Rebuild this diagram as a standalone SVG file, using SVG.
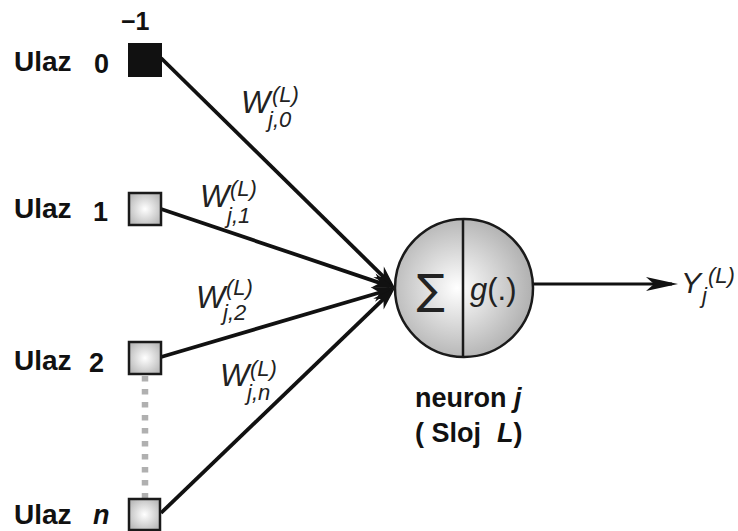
<svg xmlns="http://www.w3.org/2000/svg" width="738" height="531" viewBox="0 0 738 531">
<style>
.lbl{font-family:"Liberation Sans",Arial,sans-serif;font-weight:bold;font-size:28px;fill:#111}
.num{font-family:"Liberation Sans",Arial,sans-serif;font-weight:bold;font-size:27px;fill:#111}
.it{font-family:"Liberation Sans",Arial,sans-serif;font-style:italic;fill:#222}
.W{font-size:31px}
.s{font-size:22px}
.rm{font-family:"Liberation Sans",Arial,sans-serif;fill:#222}
.conn{stroke:#111;stroke-width:3.8;fill:none}
.box{stroke:#1a1a1a;stroke-width:2.5;fill:url(#sq)}
</style>
<defs>
<radialGradient id="sq" cx="0.5" cy="0.5" r="0.6">
<stop offset="0" stop-color="#ffffff"/>
<stop offset="1" stop-color="#b8b8b8"/>
</radialGradient>
<radialGradient id="cg" cx="0.45" cy="0.5" r="0.55">
<stop offset="0" stop-color="#ffffff"/>
<stop offset="1" stop-color="#b0b0b0"/>
</radialGradient>
<marker id="ah" markerUnits="userSpaceOnUse" orient="auto" refX="0" refY="0" overflow="visible" markerWidth="1" markerHeight="1">
<path d="M-17,-7.5 L6,0 L-17,7.5 L-10,0 Z" fill="#111"/>
</marker>
<marker id="ahout" markerUnits="userSpaceOnUse" orient="auto" refX="0" refY="0" overflow="visible" markerWidth="1" markerHeight="1">
<path d="M-26,-7 L6,0 L-26,7 L-18,0 Z" fill="#111"/>
</marker>
</defs>

<g id="connectors">
<line class="conn" x1="161" y1="58" x2="390.7" y2="283.8" marker-end="url(#ah)"/>
<line class="conn" x1="161" y1="209" x2="389.3" y2="286.1" marker-end="url(#ah)"/>
<line class="conn" x1="161" y1="357" x2="389.2" y2="289.7" marker-end="url(#ah)"/>
<line class="conn" x1="161" y1="513" x2="390.7" y2="292.2" marker-end="url(#ah)"/>
<line x1="533" y1="284" x2="672" y2="284" stroke="#111" stroke-width="3" marker-end="url(#ahout)"/>
<line x1="145" y1="376" x2="145" y2="498" stroke="#b0b0b0" stroke-width="6.5" stroke-dasharray="5.5 7.5"/>
</g>

<g id="input0">
<text class="lbl" x="14" y="71">Ulaz</text>
<text class="num" x="94" y="73">0</text>
<text class="num" x="121" y="30" style="font-size:25px">−1</text>
<rect x="129" y="44" width="32" height="32" fill="#111" stroke="#111" stroke-width="2"/>
</g>
<g id="input1">
<text class="lbl" x="14" y="218">Ulaz</text>
<text class="num" x="93" y="221">1</text>
<rect class="box" x="129" y="193" width="32" height="32"/>
</g>
<g id="input2">
<text class="lbl" x="14" y="370">Ulaz</text>
<text class="num" x="89" y="372">2</text>
<rect class="box" x="129" y="342" width="32" height="32"/>
</g>
<g id="inputn">
<text class="lbl" x="14" y="524">Ulaz</text>
<text class="num" x="93" y="524" style="font-style:italic">n</text>
<rect class="box" x="129" y="499" width="31" height="31"/>
</g>

<g id="weights">
<text class="it W" x="241" y="113">W</text>
<text class="it s" x="272" y="102">(L)</text>
<text class="it s" x="268" y="127">j,0</text>

<text class="it W" x="200" y="207">W</text>
<text class="it s" x="230" y="196">(L)</text>
<text class="it s" x="227" y="223">j,1</text>

<text class="it W" x="196" y="308">W</text>
<text class="it s" x="226" y="295">(L)</text>
<text class="it s" x="223" y="320">j,2</text>

<text class="it W" x="220" y="386">W</text>
<text class="it s" x="250" y="376">(L)</text>
<text class="it s" x="247" y="400">j,n</text>
</g>

<g id="neuron">
<circle cx="464" cy="288" r="69" fill="url(#cg)" stroke="#1a1a1a" stroke-width="2.5"/>
<line x1="463" y1="219" x2="463" y2="357" stroke="#1a1a1a" stroke-width="2.5"/>
<text class="rm" x="431" y="304" font-size="42" text-anchor="middle" style="font-family:'DejaVu Sans',sans-serif">∑</text>
<text class="rm" x="470" y="300" font-size="31"><tspan font-style="italic">g</tspan>(.)</text>
<text class="lbl" x="415" y="407" style="font-size:27px">neuron <tspan font-style="italic">j</tspan></text>
<text class="lbl" x="415" y="442" style="font-size:27px">( Sloj<tspan x="497" font-style="italic">L</tspan>)</text>
</g>

<g id="output">
<text class="it" x="681" y="293" font-size="30">Y</text>
<text class="it s" x="702" y="303">j</text>
<text class="it s" x="708" y="283">(L)</text>
</g>
</svg>
